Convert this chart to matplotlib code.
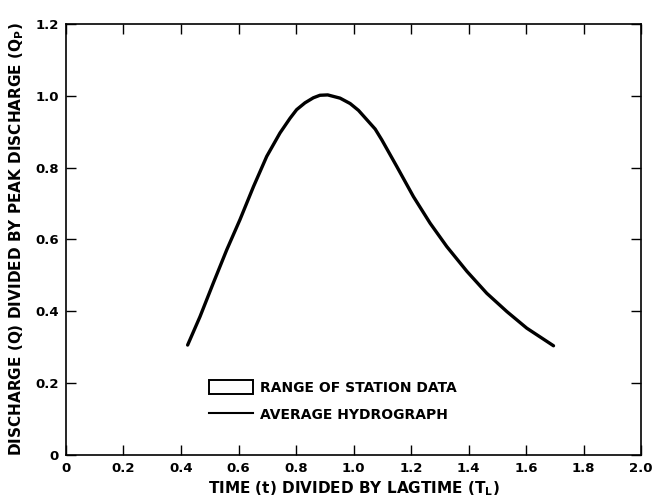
import matplotlib
matplotlib.use("Agg")
import matplotlib.pyplot as plt
from matplotlib.patches import Patch
from matplotlib.lines import Line2D

plt.rcParams['font.family'] = ['DejaVu Sans']
plt.rcParams['font.weight'] = 'bold'
plt.rcParams['mathtext.fontset'] = 'dejavusans'
plt.rcParams['mathtext.default'] = 'bf'

# Average dimensionless hydrograph
t_ratio = [0.423, 0.466, 0.512, 0.559, 0.605, 0.652, 0.698, 0.744, 0.779, 0.802,
           0.831, 0.860, 0.883, 0.910, 0.953, 0.988, 1.017, 1.046, 1.075, 1.098,
           1.150, 1.208, 1.266, 1.324, 1.394, 1.463, 1.533, 1.602, 1.695]
q_ratio = [0.306, 0.385, 0.478, 0.571, 0.655, 0.747, 0.831, 0.896, 0.937, 0.961,
           0.980, 0.994, 1.001, 1.002, 0.993, 0.978, 0.959, 0.933, 0.907, 0.877,
           0.803, 0.719, 0.645, 0.580, 0.511, 0.450, 0.399, 0.353, 0.304]

x_ticks = [0, 0.2, 0.4, 0.6, 0.8, 1.0, 1.2, 1.4, 1.6, 1.8, 2.0]
x_labels = ['0', '0.2', '0.4', '0.6', '0.8', '1.0', '1.2', '1.4', '1.6', '1.8', '2.0']
y_ticks = [0, 0.2, 0.4, 0.6, 0.8, 1.0, 1.2]
y_labels = ['0', '0.2', '0.4', '0.6', '0.8', '1.0', '1.2']

legend_labels = ['RANGE OF STATION DATA', 'AVERAGE HYDROGRAPH']

fig = plt.figure(figsize=(6.53, 4.98), dpi=100)
ax = fig.add_axes([0.101, 0.0863, 0.881, 0.866])

ax.plot(t_ratio, q_ratio, color='black', lw=2.4,
        solid_capstyle='round', solid_joinstyle='round')

ax.set_xlim(0, 2.0)
ax.set_ylim(0, 1.2)
ax.set_xticks(x_ticks)
ax.set_xticklabels(x_labels)
ax.set_yticks(y_ticks)
ax.set_yticklabels(y_labels)
ax.tick_params(direction='in', length=7, width=1.0, top=True, right=True,
               labelsize=9.5, pad=5)
for lab in ax.get_xticklabels() + ax.get_yticklabels():
    lab.set_fontweight('bold')
for s in ax.spines.values():
    s.set_linewidth(1.2)

ax.set_xlabel('TIME (t) DIVIDED BY LAGTIME (T$_\\mathbf{L}$)', fontsize=11,
              fontweight='bold', labelpad=3)
ax.set_ylabel('DISCHARGE (Q) DIVIDED BY PEAK DISCHARGE (Q$_\\mathbf{P}$)',
              fontsize=11, fontweight='bold', labelpad=7)

handles = [Patch(facecolor='white', edgecolor='black', linewidth=1.4),
           Line2D([0], [0], color='black', lw=1.5)]
leg = ax.legend(handles, legend_labels, loc='lower left',
                bbox_to_anchor=(0.236, 0.06), frameon=False,
                fontsize=10, handlelength=3.2, handleheight=1.2,
                handletextpad=0.5, labelspacing=0.9, borderpad=0)
for txt in leg.get_texts():
    txt.set_fontweight('bold')

fig.savefig('out.png', dpi=100)
